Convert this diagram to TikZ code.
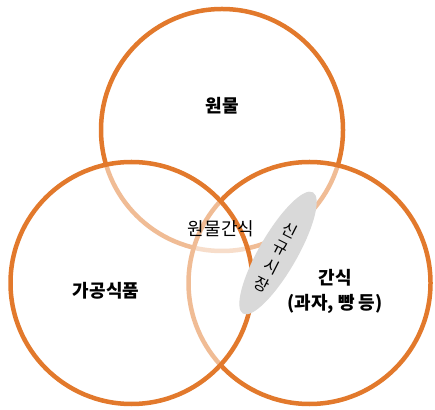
\documentclass[tikz,border=0pt]{standalone}
\usepackage{fontspec}
\setmainfont{Noto Sans CJK KR}
\usetikzlibrary{shapes.geometric}
\definecolor{vennorange}{RGB}{226,121,44}
\definecolor{marketgray}{RGB}{217,217,217}

\begin{document}
\begin{tikzpicture}[x=1pt,y=1pt,
    venn/.style={circle, draw=vennorange, line width=4.5pt, fill=white,
        fill opacity=0.5, draw opacity=1, minimum size=242pt, inner sep=0pt},
    vennlabel/.style={font=\fontsize{18}{25}\selectfont\bfseries, align=center}
]
    \useasboundingbox (0,0) rectangle (435,409);

    % Three sets, drawn top, right, left so the half-white fill
    % washes out the arcs underneath
    \node[venn] (raw) at (222,279) {};
    \node[venn] (snack) at (309.5,126) {};
    \node[venn] (processed) at (131.5,126) {};

    % New market in the overlap
    \node[ellipse, fill=marketgray, minimum width=140pt, minimum height=38pt,
        inner sep=0pt, rotate=60] (market) at (278,156) {};
    % Stacked letters, one below the other along the tilt
    \foreach \ch [count=\i from 0] in {신,규,시,장} {
        \node[font=\fontsize{16}{16}\selectfont, inner sep=0pt, rotate=-27]
            (market\i) at ({290-9.3*\i},{179-18.3*\i}) {\ch};
    }

    % Set labels
    \node[vennlabel] (rawlabel) at (222,303) {원물};
    \node[vennlabel] (processedlabel) at (106,118) {가공식품};
    \node[vennlabel] (snacklabel) at (335,118) {간식\\(과자, 빵 등)};
    \node[font=\fontsize{18}{20}\selectfont] (rawsnack) at (221,180) {원물간식};
\end{tikzpicture}
\end{document}
